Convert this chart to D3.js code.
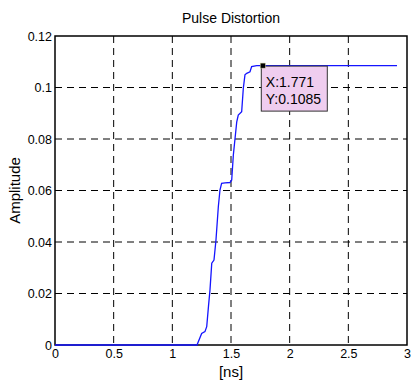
<!DOCTYPE html>
<html>
<head>
<meta charset="utf-8">
<script src="https://cdn.jsdelivr.net/npm/d3@7"></script>
<style>
  body { margin: 0; background: #fff; }
  text { font-family: "Liberation Sans", Arial, sans-serif; fill: #000; }
</style>
</head>
<body>
<div id="graph"></div>
<script>
// pulse response, [ns] vs amplitude
var timeNs = [0, 1.21, 1.25, 1.278, 1.293, 1.308, 1.321, 1.336, 1.355, 1.372, 1.392, 1.406, 1.42, 1.449, 1.491, 1.506, 1.52, 1.549, 1.562, 1.591, 1.605, 1.619, 1.634, 1.662, 1.676, 1.719, 1.771, 2.915];
var amplitude = [0, 0, 0.0045, 0.0052, 0.0071, 0.015, 0.0214, 0.0318, 0.033, 0.0408, 0.0537, 0.0602, 0.0628, 0.063, 0.0631, 0.0641, 0.0738, 0.0867, 0.0893, 0.0906, 0.0997, 0.1049, 0.1055, 0.1061, 0.1081, 0.1085, 0.1085, 0.1085];

var xTicks = [0, 0.5, 1, 1.5, 2, 2.5, 3];
var xTickLabels = ["0", "0.5", "1", "1.5", "2", "2.5", "3"];
var yTicks = [0, 0.02, 0.04, 0.06, 0.08, 0.1, 0.12];
var yTickLabels = ["0", "0.02", "0.04", "0.06", "0.08", "0.1", "0.12"];

var tipX = 1.771;
var tipY = 0.1085;

var width = 411;
var height = 381;
var padL = 55, padR = 407, padT = 36, padB = 345;

var svg = d3.select("#graph").
append("svg").
attr("width", width).
attr("height", height);

var xScale = d3.scaleLinear().domain([0, 3]).range([padL, padR]);
var yScale = d3.scaleLinear().domain([0, 0.12]).range([padB, padT]);

// dashed grid
svg.selectAll("line.vgrid").
data(xTicks.slice(1, -1)).
enter().
append("line").
attr("class", "vgrid").
attr("x1", function (d) {return xScale(d);}).
attr("x2", function (d) {return xScale(d);}).
attr("y1", padT).
attr("y2", padB).
attr("stroke", "#000").
attr("stroke-dasharray", "7,5");

svg.selectAll("line.hgrid").
data(yTicks.slice(1, -1)).
enter().
append("line").
attr("class", "hgrid").
attr("y1", function (d) {return yScale(d);}).
attr("y2", function (d) {return yScale(d);}).
attr("x1", padL).
attr("x2", padR).
attr("stroke", "#000").
attr("stroke-dasharray", "7,5");

var xAxis = d3.axisBottom(xScale).
tickValues(xTicks).
tickSize(0).
tickPadding(4).
tickFormat(function (d, i) {return xTickLabels[i];});

var yAxis = d3.axisLeft(yScale).
tickValues(yTicks).
tickSize(0).
tickPadding(3).
tickFormat(function (d, i) {return yTickLabels[i];});

var gx = svg.append("g").
attr("transform", "translate(0," + padB + ")").
call(xAxis);
gx.select(".domain").remove();
gx.selectAll("text").style("font-size", "12.5px").style("font-family", "Liberation Sans, Arial, sans-serif");

var gy = svg.append("g").
attr("transform", "translate(" + padL + ",0)").
call(yAxis);
gy.select(".domain").remove();
gy.selectAll("text").style("font-size", "12.5px").style("font-family", "Liberation Sans, Arial, sans-serif");

// box round the plot
svg.append("rect").
attr("x", padL).
attr("y", padT).
attr("width", padR - padL).
attr("height", padB - padT).
attr("fill", "none").
attr("stroke", "#000").
attr("stroke-width", 1.5);

var line = d3.line().
x(function (d) {return xScale(d[0]);}).
y(function (d) {return yScale(d[1]);});

svg.append("path").
datum(timeNs.map(function (t, i) {return [t, amplitude[i]];})).
attr("d", line).
attr("fill", "none").
attr("stroke", "#1515ff").
attr("stroke-width", 1.3);

// data tip
var tx = xScale(tipX), ty = yScale(tipY);
svg.append("rect").
attr("x", tx - 1.5).
attr("y", ty + 0.5).
attr("width", 66).
attr("height", 45).
attr("fill", "#efcdef").
attr("stroke", "#333").
attr("stroke-width", 1);

svg.append("rect").
attr("x", tx - 2.5).
attr("y", ty - 2.5).
attr("width", 5).
attr("height", 5).
attr("fill", "#000").
attr("stroke", "#cc9").
attr("stroke-width", 0.5);

svg.append("text").
attr("x", tx + 3).
attr("y", ty + 21).
style("font-size", "14px").
text("X:" + tipX);

svg.append("text").
attr("x", tx + 3).
attr("y", ty + 38).
style("font-size", "14px").
text("Y:" + tipY);

svg.append("text").
attr("x", (padL + padR) / 2).
attr("y", 23).
attr("text-anchor", "middle").
style("font-size", "14px").
text("Pulse Distortion");

svg.append("text").
attr("x", (padL + padR) / 2).
attr("y", 377).
attr("text-anchor", "middle").
style("font-size", "15px").
text("[ns]");

svg.append("text").
attr("transform", "translate(20," + ((padT + padB) / 2) + ") rotate(-90)").
attr("text-anchor", "middle").
style("font-size", "15px").
text("Amplitude");
</script>
</body>
</html>
